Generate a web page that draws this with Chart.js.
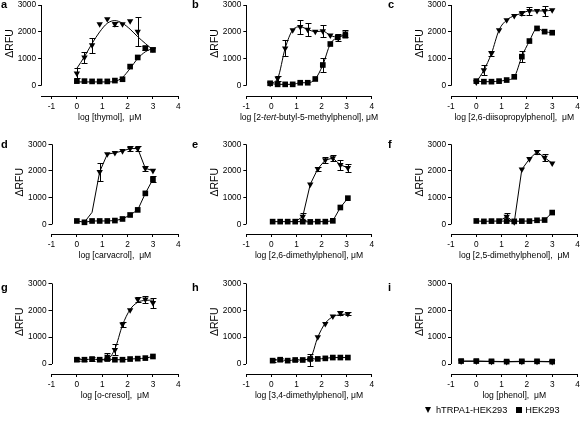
<!DOCTYPE html>
<html>
<head>
<meta charset="utf-8">
<script src="https://cdn.jsdelivr.net/npm/chart.js@4.4.1/dist/chart.umd.min.js"></script>
<style>
  body { margin: 0; background: #fff; }
  #fig { position: relative; width: 585px; height: 421px; overflow: hidden; color: #000; font-family: 'Liberation Sans', Arial, sans-serif; }
  #fig canvas { position: absolute; }
  .tag { position: absolute; font-weight: bold; font-size: 11px; line-height: 1; will-change: transform; }
  #legend { position: absolute; left: 425px; top: 405px; height: 10px; font-size: 9.2px; display: flex; align-items: center; white-space: nowrap; will-change: transform; }
  .tri { display: inline-block; width: 0; height: 0; border-left: 3.5px solid transparent; border-right: 3.5px solid transparent; border-top: 6px solid #000; margin-right: 5px; }
  .sq { display: inline-block; width: 6px; height: 6px; background: #000; margin: 0 3px 0 9px; }
</style>
</head>
<body>
<div id="fig">
  <div id="legend"><span class="tri"></span>hTRPA1-HEK293<span class="sq"></span>HEK293</div>
</div>
<script>
const xTicks = [-1, 0, 1, 2, 3, 4]
const yTicks = [0, 1000, 2000, 3000]

// log concentrations used in the panels
const doses = [0, 0.3, 0.6, 0.9, 1.2, 1.5, 1.8, 2.1, 2.4, 2.7, 3.0]
const dosesB = [-0.05, 0.25, 0.55, 0.85, 1.15, 1.45, 1.75, 2.05, 2.35, 2.65, 2.95]
const dosesE = [0.05, 0.35, 0.65, 0.95, 1.25, 1.55, 1.85, 2.15, 2.45, 2.75, 3.05]
const dosesI = [-0.6, 0, 0.6, 1.2, 1.8, 2.4, 3.0]

// a: thymol
const aTriX = [0, 0.3, 0.6, 0.9, 1.2, 1.5, 1.8, 2.1, 2.4, 3.0]
const aTriY = [460, 1050, 1510, 2290, 2480, 2290, 2290, 2400, 2010, 1350]
const aTriErr = [190, 200, 280, 0, 0, 80, 0, 0, 530, 0]
const aSqY = [170, 170, 160, 160, 160, 190, 240, 710, 1050, 1400, 1330]
const aSqErr = [0, 0, 0, 0, 0, 0, 0, 0, 0, 60, 0]
const aFitTri = [645, 1080, 1570, 2000, 2320, 2420, 2320, 2100, 1820, 1570, 1330]
const aFitSq = [140, 140, 140, 140, 140, 160, 310, 640, 1010, 1260, 1390]

// b: 2-tert-butyl-5-methylphenol
const bTriY = [80, 270, 1390, 2070, 2190, 2090, 2010, 2030, 1870, 1800, 1950]
const bTriErr = [0, 80, 300, 0, 260, 250, 0, 230, 0, 0, 130]
const bSqY = [90, 50, 50, 50, 110, 110, 250, 770, 1550, 1800, 1860]
const bSqErr = [0, 0, 0, 0, 0, 0, 0, 250, 0, 120, 0]

// c: 2,6-diisopropylphenol
const cTriY = [130, 580, 1200, 2070, 2440, 2600, 2690, 2780, 2780, 2780, 2810]
const cTriErr = [0, 180, 100, 0, 0, 0, 80, 150, 0, 180, 0]
const cSqY = [170, 150, 150, 170, 210, 330, 1080, 1660, 2130, 2010, 1970]
const cSqErr = [0, 0, 0, 0, 0, 0, 200, 0, 0, 0, 0]

// d: carvacrol
const dTriX = [0.9, 1.2, 1.5, 1.8, 2.1, 2.4, 2.7, 3.0]
const dTriY = [1970, 2630, 2680, 2750, 2840, 2840, 2100, 2010]
const dTriErr = [340, 0, 0, 0, 90, 90, 90, 0]
const dSqY = [125, 75, 125, 125, 125, 140, 200, 350, 540, 1160, 1690]
const dSqErr = [0, 0, 0, 0, 0, 0, 0, 0, 0, 0, 120]
const dFitX = [0.3, 0.6, 0.9, 1.2, 1.5, 1.8, 2.1, 2.4, 2.7, 3.0]
const dFitTri = [80, 450, 1970, 2630, 2680, 2750, 2840, 2840, 2100, 2010]

// e: 2,6-dimethylphenol
const eTriX = [1.25, 1.55, 1.85, 2.15, 2.45, 2.75, 3.05]
const eTriY = [290, 1500, 2080, 2410, 2480, 2230, 2120]
const eTriErr = [120, 0, 80, 120, 110, 180, 150]
const eSqY = [100, 100, 100, 100, 100, 90, 100, 100, 130, 630, 980]
const eFitX = [0.95, 1.25, 1.55, 1.85, 2.15, 2.45, 2.75, 3.05]
const eFitTri = [100, 290, 1500, 2080, 2410, 2480, 2230, 2120]

// f: 2,5-dimethylphenol
const fTriX = [1.2, 1.5, 1.8, 2.1, 2.4, 2.7, 3.0]
const fTriY = [290, 80, 2060, 2450, 2720, 2500, 2290]
const fTriErr = [130, 0, 0, 0, 70, 120, 0]
const fSqY = [125, 110, 120, 120, 120, 110, 120, 120, 150, 160, 440]
const fFitX = [0.9, 1.2, 1.5, 1.8, 2.1, 2.4, 2.7, 3.0]
const fFitTri = [120, 290, 80, 2060, 2450, 2720, 2500, 2290]

// g: o-cresol
const gTriX = [1.2, 1.5, 1.8, 2.1, 2.4, 2.7, 3.0]
const gTriY = [280, 530, 1480, 2010, 2410, 2410, 2280]
const gTriErr = [130, 200, 100, 0, 90, 120, 180]
const gSqY = [160, 160, 185, 160, 185, 160, 160, 185, 200, 220, 280]
const gSqErr = [60, 40, 70, 0, 40, 0, 0, 0, 0, 0, 0]
const gFitX = [0.9, 1.2, 1.5, 1.8, 2.1, 2.4, 2.7, 3.0]
const gFitTri = [150, 180, 560, 1450, 2030, 2300, 2370, 2380]

// h: 3,4-dimethylphenol
const hTriX = [1.55, 1.85, 2.15, 2.45, 2.75, 3.05]
const hTriY = [160, 1000, 1500, 1780, 1900, 1870]
const hTriErr = [220, 0, 0, 0, 60, 50]
const hSqY = [125, 160, 125, 150, 150, 190, 190, 210, 240, 240, 240]
const hSqErr = [50, 60, 0, 40, 0, 40, 0, 0, 0, 0, 0]
const hFitX = [1.25, 1.55, 1.85, 2.15, 2.45, 2.75, 3.05]
const hFitTri = [150, 220, 1000, 1520, 1760, 1840, 1860]

// i: phenol
const iTriY = [100, 100, 90, 80, 90, 90, 80]
const iSqY = [110, 110, 100, 90, 100, 100, 90]

const FONT = "'Liberation Sans', Arial, sans-serif"

// pixel frame of each row / column of the figure
const rows = [
  { top: 5, y0: 85.7, axB: 96, tagY: -1.5 },
  { top: 144.3, y0: 224.3, axB: 234, tagY: 138.5 },
  { top: 283.5, y0: 364, axB: 374, tagY: 281.5 },
]
const cols = [
  { xm1: 51.5, x4: 178.3, tagX: 1 },
  { xm1: 246.3, x4: 371.7, tagX: 192 },
  { xm1: 451, x4: 577.5, tagX: 388 },
]

const panels = [
  { tag: 'a', row: 0, col: 0, xMin: -1.41, title: [['log [thymol],  μM']],
    tri: [aTriX, aTriY, aTriErr], sq: [doses, aSqY, aSqErr],
    fitTri: [doses, aFitTri], fitSq: [doses, aFitSq], smooth: true },
  { tag: 'b', row: 0, col: 1, title: [['log [2-'], ['tert', true], ['-butyl-5-methylphenol], μM']],
    tri: [dosesB, bTriY, bTriErr], sq: [dosesB, bSqY, bSqErr],
    fitTri: [dosesB, bTriY], fitSq: [dosesB, bSqY], smooth: true },
  { tag: 'c', row: 0, col: 2, title: [['log [2,6-diisopropylphenol],  μM']],
    tri: [doses, cTriY, cTriErr], sq: [doses, cSqY, cSqErr],
    fitTri: [doses, cTriY], fitSq: [doses, cSqY], smooth: true },
  { tag: 'd', row: 1, col: 0, title: [['log [carvacrol],  μM']],
    tri: [dTriX, dTriY, dTriErr], sq: [doses, dSqY, dSqErr],
    fitTri: [dFitX, dFitTri], fitSq: [doses, dSqY], smooth: false },
  { tag: 'e', row: 1, col: 1, title: [['log [2,6-dimethylphenol], μM']],
    tri: [eTriX, eTriY, eTriErr], sq: [dosesE, eSqY, null],
    fitTri: [eFitX, eFitTri], fitSq: [dosesE, eSqY], smooth: false },
  { tag: 'f', row: 1, col: 2, title: [['log [2,5-dimethylphenol],  μM']],
    tri: [fTriX, fTriY, fTriErr], sq: [doses, fSqY, null],
    fitTri: [fFitX, fFitTri], fitSq: [doses, fSqY], smooth: false },
  { tag: 'g', row: 2, col: 0, title: [['log [o-cresol],  μM']],
    tri: [gTriX, gTriY, gTriErr], sq: [doses, gSqY, gSqErr],
    fitTri: [gFitX, gFitTri], fitSq: [doses, gSqY], smooth: true },
  { tag: 'h', row: 2, col: 1, title: [['log [3,4-dimethylphenol], μM']],
    tri: [hTriX, hTriY, hTriErr], sq: [dosesE, hSqY, hSqErr],
    fitTri: [hFitX, hFitTri], fitSq: [dosesE, hSqY], smooth: true },
  { tag: 'i', row: 2, col: 2, title: [['log [phenol],  μM']],
    tri: [dosesI, iTriY, null], sq: [dosesI, iSqY, null],
    fitTri: [dosesI, iTriY], fitSq: [dosesI, iSqY], smooth: false },
]

const pts = (xs, ys) => xs.map((x, i) => ({ x, y: ys[i] }))

// y axis only spans 0..3000, detached from the x axis
const axisLine = {
  id: 'axisLine',
  afterDraw(chart) {
    const { ctx, chartArea, scales: { y } } = chart
    const x = Math.round(chartArea.left) + 0.5
    ctx.save()
    ctx.strokeStyle = '#000'
    ctx.lineWidth = 1
    ctx.beginPath()
    ctx.moveTo(x, y.getPixelForValue(0))
    ctx.lineTo(x, y.getPixelForValue(3000))
    ctx.stroke()
    ctx.restore()
  },
}

const errorBars = {
  id: 'errorBars',
  beforeDatasetsDraw(chart) {
    const { ctx, scales: { y } } = chart
    ctx.save()
    ctx.strokeStyle = '#000'
    ctx.lineWidth = 1
    chart.data.datasets.forEach((ds, di) => {
      if (!ds.errors) return
      const meta = chart.getDatasetMeta(di)
      meta.data.forEach((pt, i) => {
        const e = ds.errors[i]
        if (!e) return
        const v = ds.data[i].y
        const x = Math.round(pt.x) + 0.5
        const t = Math.round(y.getPixelForValue(v + e)) + 0.5
        const b = Math.round(y.getPixelForValue(v - e)) + 0.5
        ctx.beginPath()
        ctx.moveTo(x, t); ctx.lineTo(x, b)
        ctx.moveTo(x - 3, t); ctx.lineTo(x + 3, t)
        ctx.moveTo(x - 3, b); ctx.lineTo(x + 3, b)
        ctx.stroke()
      })
    })
    ctx.restore()
  },
}

const titles = {
  id: 'titles',
  afterDraw(chart, args, opts) {
    const { ctx, chartArea, scales: { y } } = chart
    ctx.save()
    ctx.fillStyle = '#000'
    // y title
    const cy = (y.getPixelForValue(0) + y.getPixelForValue(3000)) / 2 - 2
    ctx.translate(chartArea.left - 31, cy)
    ctx.rotate(-Math.PI / 2)
    ctx.font = `10.5px ${FONT}`
    ctx.textAlign = 'center'
    ctx.textBaseline = 'middle'
    ctx.fillText('ΔRFU', 0, 0)
    ctx.setTransform(1, 0, 0, 1, 0, 0)
    // x title, with italic parts
    const segs = opts.parts.map(([t, it]) => {
      ctx.font = `${it ? 'italic ' : ''}8.6px ${FONT}`
      return { t, it, w: ctx.measureText(t).width }
    })
    const total = segs.reduce((s, g) => s + g.w, 0)
    let x = (chartArea.left + chartArea.right) / 2 - total / 2
    const ty = chartArea.bottom + 22
    ctx.textAlign = 'left'
    segs.forEach((g) => {
      ctx.font = `${g.it ? 'italic ' : ''}8.6px ${FONT}`
      ctx.fillText(g.t, x, ty)
      x += g.w
    })
    ctx.restore()
  },
}

const fig = document.getElementById('fig')

const makePanel = (p) => {
  const r = rows[p.row]
  const c = cols[p.col]
  const unit = (c.x4 - c.xm1) / 5
  const xMin = p.xMin ?? -1
  const axL = c.xm1 - (-1 - xMin) * unit
  const cl = Math.floor(axL) - 44
  const ct = Math.floor(r.top) - 10
  const W = Math.ceil(c.x4) + 8 - cl
  const H = Math.ceil(r.axB) + 30 - ct
  const yMin = (-3000 * (r.axB - r.y0)) / (r.y0 - r.top)

  const canvas = document.createElement('canvas')
  canvas.width = W
  canvas.height = H
  canvas.style.left = cl + 'px'
  canvas.style.top = ct + 'px'
  fig.appendChild(canvas)

  const tag = document.createElement('div')
  tag.className = 'tag'
  tag.textContent = p.tag
  tag.style.left = c.tagX + 'px'
  tag.style.top = r.tagY + 'px'
  fig.appendChild(tag)

  const lineDs = (xy) => ({
    data: pts(xy[0], xy[1]),
    showLine: true,
    borderColor: '#000',
    borderWidth: 1,
    pointRadius: 0,
    cubicInterpolationMode: p.smooth ? 'monotone' : 'default',
    tension: 0,
    clip: false,
    order: 3,
  })

  const datasets = [
    {
      label: 'HEK293',
      data: pts(p.sq[0], p.sq[1]),
      errors: p.sq[2],
      pointStyle: 'rect',
      pointRadius: 4,
      pointBackgroundColor: '#000',
      pointBorderWidth: 0,
      clip: false,
      order: 0,
    },
    {
      label: 'hTRPA1-HEK293',
      data: pts(p.tri[0], p.tri[1]),
      errors: p.tri[2],
      pointStyle: 'triangle',
      pointRotation: 180,
      pointRadius: 3.7,
      pointBackgroundColor: '#000',
      pointBorderWidth: 0,
      clip: false,
      order: 1,
    },
    lineDs(p.fitTri),
    lineDs(p.fitSq),
  ]

  new Chart(canvas, {
    type: 'scatter',
    data: { datasets },
    options: {
      responsive: false,
      animation: false,
      events: [],
      layout: { padding: { top: r.top - ct, right: cl + W - c.x4, left: 0, bottom: 0 } },
      plugins: {
        legend: { display: false },
        tooltip: { enabled: false },
        titles: { parts: p.title },
      },
      scales: {
        x: {
          type: 'linear',
          min: xMin,
          max: 4,
          afterBuildTicks: (s) => { s.ticks = xTicks.map((v) => ({ value: v })) },
          afterFit: (s) => { s.height = ct + H - r.axB },
          grid: { display: true, drawOnChartArea: false, drawTicks: true, tickLength: 3, color: '#000', lineWidth: 1 },
          border: { display: true, color: '#000', width: 1 },
          ticks: {
            color: '#000', padding: 2.5, maxRotation: 0, autoSkip: false,
            font: { family: FONT, size: 8.3 },
            callback: (v) => String(v),
          },
        },
        y: {
          min: yMin,
          max: 3000,
          afterBuildTicks: (s) => { s.ticks = yTicks.map((v) => ({ value: v })) },
          afterFit: (s) => { s.width = axL - cl },
          grid: { display: true, drawOnChartArea: false, drawTicks: true, tickLength: 3, color: '#000', lineWidth: 1 },
          border: { display: false },
          ticks: {
            color: '#000', padding: 2, autoSkip: false,
            font: { family: FONT, size: 8.3 },
            callback: (v) => String(v),
          },
        },
      },
    },
    plugins: [axisLine, errorBars, titles],
  })
}

panels.forEach(makePanel)
</script>
</body>
</html>
